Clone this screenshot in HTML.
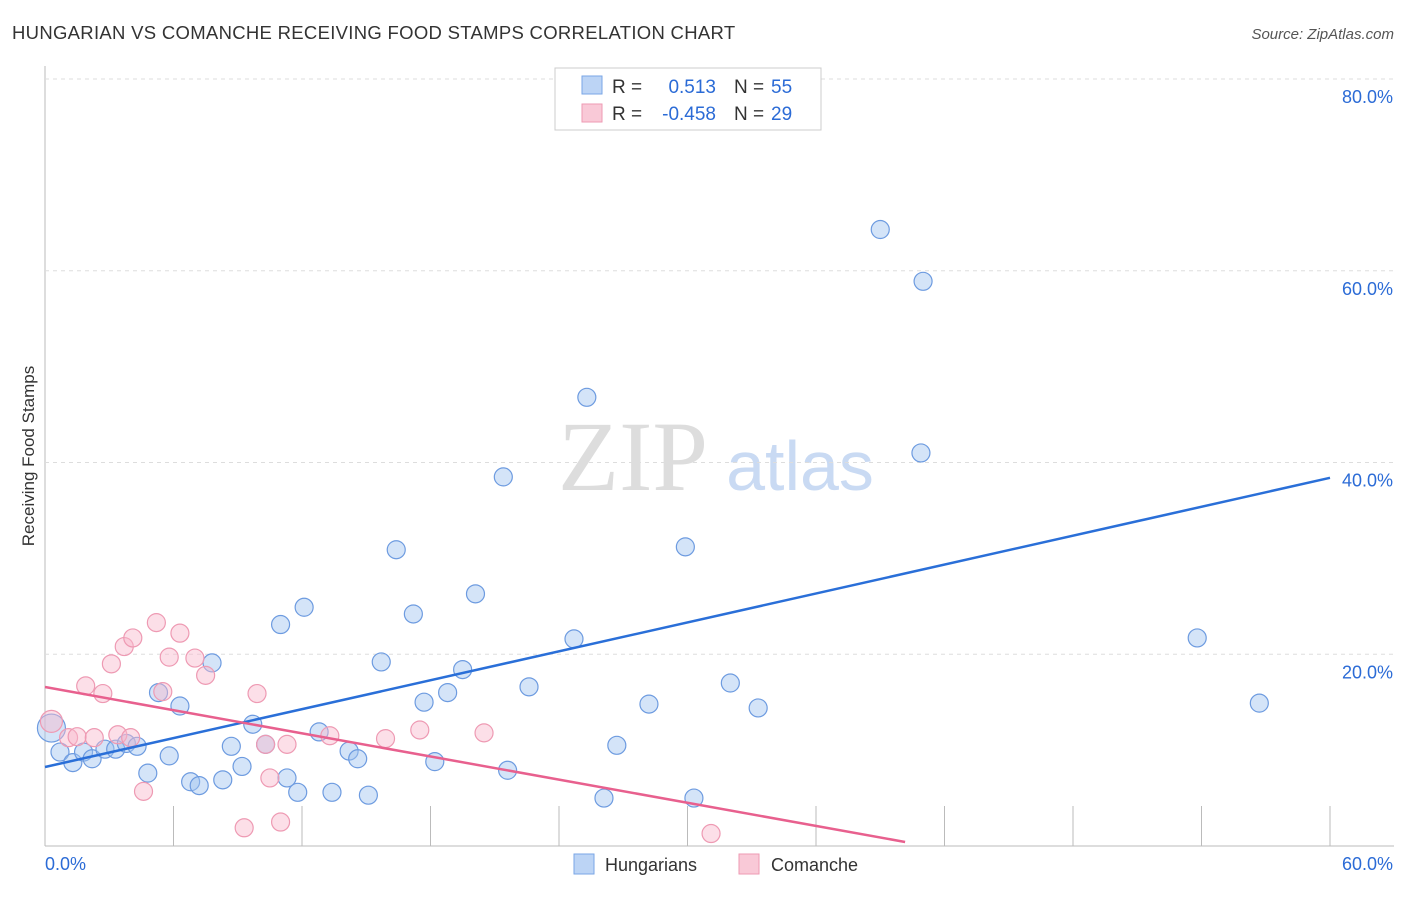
<!DOCTYPE html>
<html><head><meta charset="utf-8"><style>
body{margin:0;background:#fff;font-family:"Liberation Sans",sans-serif}
</style></head><body>
<svg id="c" width="1406" height="892" font-family="Liberation Sans, sans-serif">
<text x="12" y="39" font-size="18.5" fill="#333" letter-spacing="0.3">HUNGARIAN VS COMANCHE RECEIVING FOOD STAMPS CORRELATION CHART</text>
<text x="1394" y="39" font-size="15" fill="#555" font-style="italic" text-anchor="end">Source: ZipAtlas.com</text>
<text transform="translate(34,456) rotate(-90)" font-size="17" fill="#333" text-anchor="middle">Receiving Food Stamps</text>
<text x="633" y="490" font-size="100" fill="#ddd" style="font-family:'Liberation Serif',serif" text-anchor="middle">ZIP</text>
<text x="800" y="490" font-size="70" fill="#c9daf3" text-anchor="middle">atlas</text>
<g id="grid"></g><g id="pts"></g><g id="lines"></g>
<g>
<rect x="555" y="68" width="266" height="62" fill="#fff" stroke="#ccc"/>
<rect x="582" y="76" width="20" height="18" fill="#bcd4f5" stroke="#7aa6e6"/>
<rect x="582" y="104" width="20" height="18" fill="#f9c9d7" stroke="#ee9ab3"/>
<text x="612" y="93" font-size="19" fill="#333">R =</text>
<text x="716" y="93" font-size="19" fill="#2b6bd6" text-anchor="end">0.513</text>
<text x="734" y="93" font-size="19" fill="#333">N =</text>
<text x="771" y="93" font-size="19" fill="#2b6bd6">55</text>
<text x="612" y="120" font-size="19" fill="#333">R =</text>
<text x="716" y="120" font-size="19" fill="#2b6bd6" text-anchor="end">-0.458</text>
<text x="734" y="120" font-size="19" fill="#333">N =</text>
<text x="771" y="120" font-size="19" fill="#2b6bd6">29</text>
</g>
<g>
<rect x="574" y="854" width="20" height="20" fill="#bcd4f5" stroke="#7aa6e6"/>
<text x="605" y="871" font-size="18" fill="#333">Hungarians</text>
<rect x="739" y="854" width="20" height="20" fill="#f9c9d7" stroke="#ee9ab3"/>
<text x="771" y="871" font-size="18" fill="#333">Comanche</text>
</g>
</svg>
<script>
const xTicks=[0,6,12,18,24,30,36,42,48,54,60];
const yTicks=[20,40,60,80];
const hungX=[0.3,0.7,1.3,1.8,2.2,2.8,3.3,3.8,4.3,4.8,5.3,5.8,6.3,6.8,7.2,7.8,8.3,8.7,9.2,9.7,10.3,11.0,11.3,11.8,12.1,12.8,13.4,14.2,14.6,15.1,15.7,16.4,17.2,17.7,18.2,18.8,19.5,20.1,21.4,21.6,22.6,24.7,25.3,26.1,26.7,28.2,29.9,30.3,32.0,33.3,39.0,40.9,41.0,53.8,56.7];
const hungY=[12.3,9.8,8.7,9.8,9.1,10.1,10.1,10.7,10.4,7.6,16.0,9.4,14.6,6.7,6.3,19.1,6.9,10.4,8.3,12.7,10.6,23.1,7.1,5.6,24.9,11.9,5.6,9.9,9.1,5.3,19.2,30.9,24.2,15.0,8.8,16.0,18.4,26.3,38.5,7.9,16.6,21.6,46.8,5.0,10.5,14.8,31.2,5.0,17.0,14.4,64.3,41.0,58.9,21.7,14.9];
const comX=[0.3,1.1,1.5,1.9,2.3,2.7,3.1,3.4,3.7,4.1,4.6,5.2,5.5,5.8,6.3,7.0,7.5,9.3,9.9,10.3,10.5,11.0,11.3,13.3,15.9,17.5,20.5,31.1,4.0];
const comY=[13.0,11.3,11.4,16.7,11.3,15.9,19.0,11.6,20.8,21.7,5.7,23.3,16.1,19.7,22.2,19.6,17.8,1.9,15.9,10.6,7.1,2.5,10.6,11.5,11.2,12.1,11.8,1.3,11.3];
const hungR=[14,9,9,9,9,9,9,9,9,9,9,9,9,9,9,9,9,9,9,9,9,9,9,9,9,9,9,9,9,9,9,9,9,9,9,9,9,9,9,9,9,9,9,9,9,9,9,9,9,9,9,9,9,9,9];
const hungFit=[8.24,38.4];
const comFit=[16.58,0.42,40.16];
const X=v=>45+v/60*1285, Y=v=>846-v/80*767;
const NS='http://www.w3.org/2000/svg';
function mk(t,a,p){const e=document.createElementNS(NS,t);for(const k in a)e.setAttribute(k,a[k]);p.appendChild(e);return e;}
const grid=document.getElementById('grid');
mk('line',{x1:45,y1:66,x2:45,y2:846,stroke:'#bbb'},grid);
mk('line',{x1:45,y1:846,x2:1394,y2:846,stroke:'#bbb'},grid);
yTicks.forEach(t=>{
 const l=mk('line',{x1:45,y1:Y(t),x2:1394,y2:Y(t),stroke:'#ddd','stroke-dasharray':'4,4'},grid);
 
 
 const tx=mk('text',{x:1393,y:Y(t)+24,'font-size':18,fill:'#2b6bd6','text-anchor':'end'},grid);
 tx.textContent=t.toFixed(1)+'%';
 
 
});
xTicks.forEach(t=>{
 const l=mk('line',{x1:X(t),y1:806,x2:X(t),y2:846,stroke:'#bbb'},grid);
 
 
});
[[0,'0.0%','start',45],[60,'60.0%','end',1393]].forEach(([v,s,a,x])=>{
 const tx=mk('text',{x:x,y:870,'font-size':18,fill:'#2b6bd6','text-anchor':a},grid);
 tx.textContent=s;
 
 
});
const pts=document.getElementById('pts');
hungX.forEach((v,i)=>{
 const c=mk('circle',{cx:X(v),cy:Y(hungY[i]),r:hungR[i],fill:'rgba(160,195,240,0.45)',stroke:'#6d9be0','stroke-width':1.2},pts);
 
 
});
comX.forEach((v,i)=>{
 const c=mk('circle',{cx:X(v),cy:Y(comY[i]),r:i==0?11:9,fill:'rgba(248,185,205,0.45)',stroke:'#ee9ab3','stroke-width':1.2},pts);
 
 
});
const lines=document.getElementById('lines');
const bl=mk('line',{x1:X(0),y1:Y(hungFit[0]),x2:X(60),y2:Y(hungFit[1]),stroke:'#2a6fd8','stroke-width':2.5},lines);


const pl=mk('line',{x1:X(0),y1:Y(comFit[0]),x2:X(comFit[2]),y2:Y(comFit[1]),stroke:'#e8608e','stroke-width':2.5},lines);


</script>
</body></html>
